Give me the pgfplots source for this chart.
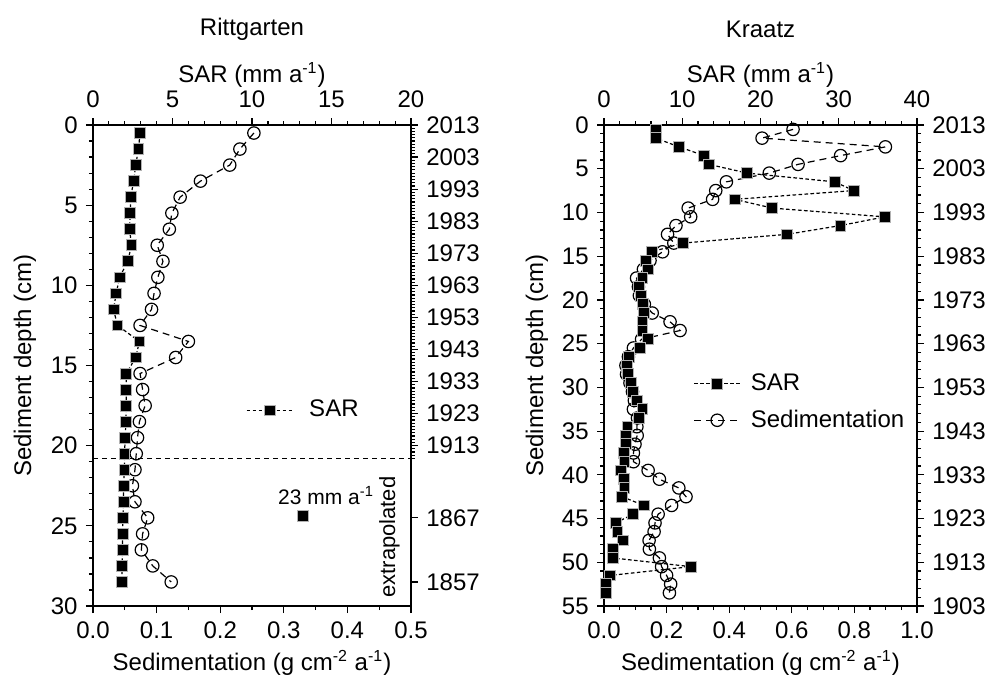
\documentclass[border=0pt]{standalone}
\usepackage{pgfplots}
\pgfplotsset{compat=1.18}
\usepackage{fontspec}
\setmainfont{Liberation Sans}

% depth (cm) versus sediment accumulation rate (SAR) and sedimentation
\pgfplotstableread{
depth sar sed
0.5  2.96 0.253
1.5  2.86 0.231
2.5  2.69 0.215
3.5  2.55 0.169
4.5  2.38 0.137
5.5  2.34 0.124
6.5  2.30 0.120
7.5  2.42 0.101
8.5  2.19 0.110
9.5  1.67 0.102
10.5 1.46 0.096
11.5 1.29 0.092
12.5 1.54 0.074
13.5 2.92 0.150
14.5 2.69 0.130
15.5 2.09 0.074
16.5 2.09 0.078
17.5 2.09 0.082
18.5 2.07 0.073
19.5 2.03 0.070
20.5 1.98 0.068
21.5 1.98 0.066
22.5 1.92 0.062
23.5 1.92 0.066
24.5 1.88 0.086
25.5 1.86 0.078
26.5 1.86 0.076
27.5 1.82 0.094
28.5 1.82 0.123
}\rittgarten

\pgfplotstableread{
depth sar sed
0.5  6.6  0.604
1.5  6.6  0.505
2.5  9.6  0.899
3.5  12.8 0.756
4.5  13.4 0.620
5.5  18.3 0.528
6.5  29.5 0.391
7.5  31.9 0.357
8.5  16.7 0.347
9.5  21.5 0.269
10.5 35.9 0.277
11.5 30.2 0.230
12.5 23.4 0.203
13.5 10.1 0.223
14.5 6.1  0.187
15.5 5.4  0.147
16.5 5.6  0.126
17.5 4.9  0.104
18.5 4.5  0.110
19.5 4.7  0.113
20.5 5.0  0.129
21.5 5.1  0.154
22.5 4.9  0.211
23.5 4.9  0.243
24.5 5.6  0.120
25.5 4.6  0.094
26.5 3.2  0.078
27.5 2.9  0.070
28.5 3.1  0.072
29.5 3.4  0.083
30.5 3.7  0.091
31.5 4.2  0.097
32.5 4.9  0.094
33.5 4.5  0.107
34.5 3.0  0.105
35.5 2.8  0.106
36.5 2.8  0.099
37.5 2.5  0.094
38.5 2.6  0.094
39.5 2.2  0.141
40.5 2.5  0.177
41.5 2.6  0.239
42.5 2.3  0.262
43.5 5.1  0.216
44.5 3.7  0.173
45.5 1.5  0.163
46.5 1.7  0.160
47.5 2.4  0.144
48.5 1.1  0.145
49.5 1.1  0.177
50.5 11.1 0.184
51.5 0.8  0.200
52.5 0.26 0.213
53.5 0.26 0.209
}\kraatz

\newcommand{\pera}{a\textsuperscript{-1}}

\begin{document}
\fontsize{12}{14}\selectfont
\begin{tikzpicture}
\useasboundingbox (-46.5pt,-35pt) rectangle (446.5pt,303pt);
\pgfplotsset{
  every axis/.append style={font=\fontsize{12}{14}\selectfont},
  panel/.style={scale only axis, height=240.5pt, y dir=reverse, clip=false,
    axis line style={line width=0.9pt}, tick style={line width=0.6pt, black},
    major tick length=3.5pt, minor tick length=2pt, tick align=outside,
    /pgf/number format/assume math mode=true},
  sarline/.style={black, line width=0.6pt, dash pattern=on 1.8pt off 1.2pt,
    mark=square*, mark size=2.7pt,
    mark options={solid, fill=black, draw=gray!60, line width=0.4pt}},
  sedline/.style={black, line width=0.6pt, dash pattern=on 3.5pt off 2.5pt,
    mark=o, mark size=3.1pt, mark options={solid, draw=black, line width=0.6pt}},
  legend image code/.code={%
    \draw[mark repeat=2, mark phase=2, #1] plot coordinates {(0pt,0pt) (11.5pt,0pt) (23pt,0pt)};},
}

% ---------------- Rittgarten ----------------
\begin{axis}[panel, width=159pt, at={(0,0)}, anchor=south west,
  xmin=0, xmax=0.5, ymin=0, ymax=30, tick pos=left,
  xtick={0,0.1,...,0.5}, minor x tick num=1,
  xticklabel style={/pgf/number format/.cd, fixed, fixed zerofill, precision=1},
  ytick={0,5,...,30}, minor y tick num=4]
  \addplot[sedline] table[x=sed, y=depth] {\rittgarten};
  \addplot[black, line width=0.6pt, dash pattern=on 2.5pt off 2pt] coordinates {(0,20.8) (0.5,20.8)};
  \addplot[only marks, mark=square*, mark size=2.7pt, mark options={fill=black, draw=gray!60, line width=0.4pt}]
    coordinates {(0.33,24.4)};
  \node[anchor=west, font=\fontsize{10.5}{12}\selectfont] at (axis cs:0.278,23.1) {23 mm \pera};
  \node[rotate=90, font=\fontsize{11}{13}\selectfont] at (axis cs:0.466,25.7) {extrapolated};
\end{axis}
\begin{axis}[panel, width=159pt, at={(0,0)}, anchor=south west,
  xmin=0, xmax=20, ymin=0, ymax=30,
  axis x line*=top, axis y line=none,
  xtick={0,5,...,20}, minor x tick num=4,
  xticklabel style={yshift=1pt},
  legend style={draw=none, fill=none, inner sep=0pt, column sep=6pt,
    at={(axis cs:9.6,17.8)}, anchor=west},
  legend cell align=left]
  \addplot[sarline] table[x=sar, y=depth] {\rittgarten};
  \addlegendentry{SAR}
\end{axis}
\begin{axis}[panel, width=159pt, at={(0,0)}, anchor=south west,
  xmin=0, xmax=0.5, ymin=0, ymax=30,
  axis y line*=right, axis x line=none,
  ytick={0,2,...,20,24.5,28.5},
  yticklabels={2013,2003,1993,1983,1973,1963,1953,1943,1933,1923,1913,1867,1857},
  minor ytick={0,0.2,...,20.8}]
  \addplot[draw=none] coordinates {(0,0)};
\end{axis}

% ---------------- Kraatz ----------------
\begin{axis}[panel, width=156.5pt, at={(255.5pt,0)}, anchor=south west,
  xmin=0, xmax=1, ymin=0, ymax=55, tick pos=left,
  xtick={0,0.2,...,1.0}, minor x tick num=3,
  xticklabel style={/pgf/number format/.cd, fixed, fixed zerofill, precision=1},
  ytick={0,5,...,55}, minor y tick num=4]
  \addplot[sedline] table[x=sed, y=depth] {\kraatz};
\end{axis}
\begin{axis}[panel, width=156.5pt, at={(255.5pt,0)}, anchor=south west,
  xmin=0, xmax=40, ymin=0, ymax=55,
  axis x line*=top, axis y line=none,
  xtick={0,10,...,40}, minor x tick num=4,
  xticklabel style={yshift=1pt},
  legend style={draw=none, fill=none, inner sep=0pt, row sep=4pt, column sep=3pt,
    at={(axis cs:11.4,29.5)}, anchor=north west, yshift=7pt},
  legend cell align=left]
  \addplot[sarline] table[x=sar, y=depth] {\kraatz};
  \addlegendentry{SAR}
  \addlegendimage{sedline}
  \addlegendentry{Sedimentation}
\end{axis}
\begin{axis}[panel, width=156.5pt, at={(255.5pt,0)}, anchor=south west,
  xmin=0, xmax=1, ymin=0, ymax=55,
  axis y line*=right, axis x line=none,
  ytick={0,5,...,55},
  yticklabels={2013,2003,1993,1983,1973,1963,1953,1943,1933,1923,1913,1903},
  minor y tick num=4]
  \addplot[draw=none] coordinates {(0,0)};
\end{axis}

% titles and axis labels
\node at (79.5pt,288.5pt) {Rittgarten};
\node at (333.75pt,288.5pt) {Kraatz};
\node at (79.5pt,265.5pt) {SAR (mm \pera)};
\node at (333.75pt,265.5pt) {SAR (mm \pera)};
\node at (79.5pt,-28.5pt) {Sedimentation (g cm\textsuperscript{-2} \pera)};
\node at (333.75pt,-28.5pt) {Sedimentation (g cm\textsuperscript{-2} \pera)};
\node[rotate=90] at (-34pt,120.25pt) {Sediment depth (cm)};
\node[rotate=90] at (222pt,120.25pt) {Sediment depth (cm)};
\end{tikzpicture}
\end{document}
